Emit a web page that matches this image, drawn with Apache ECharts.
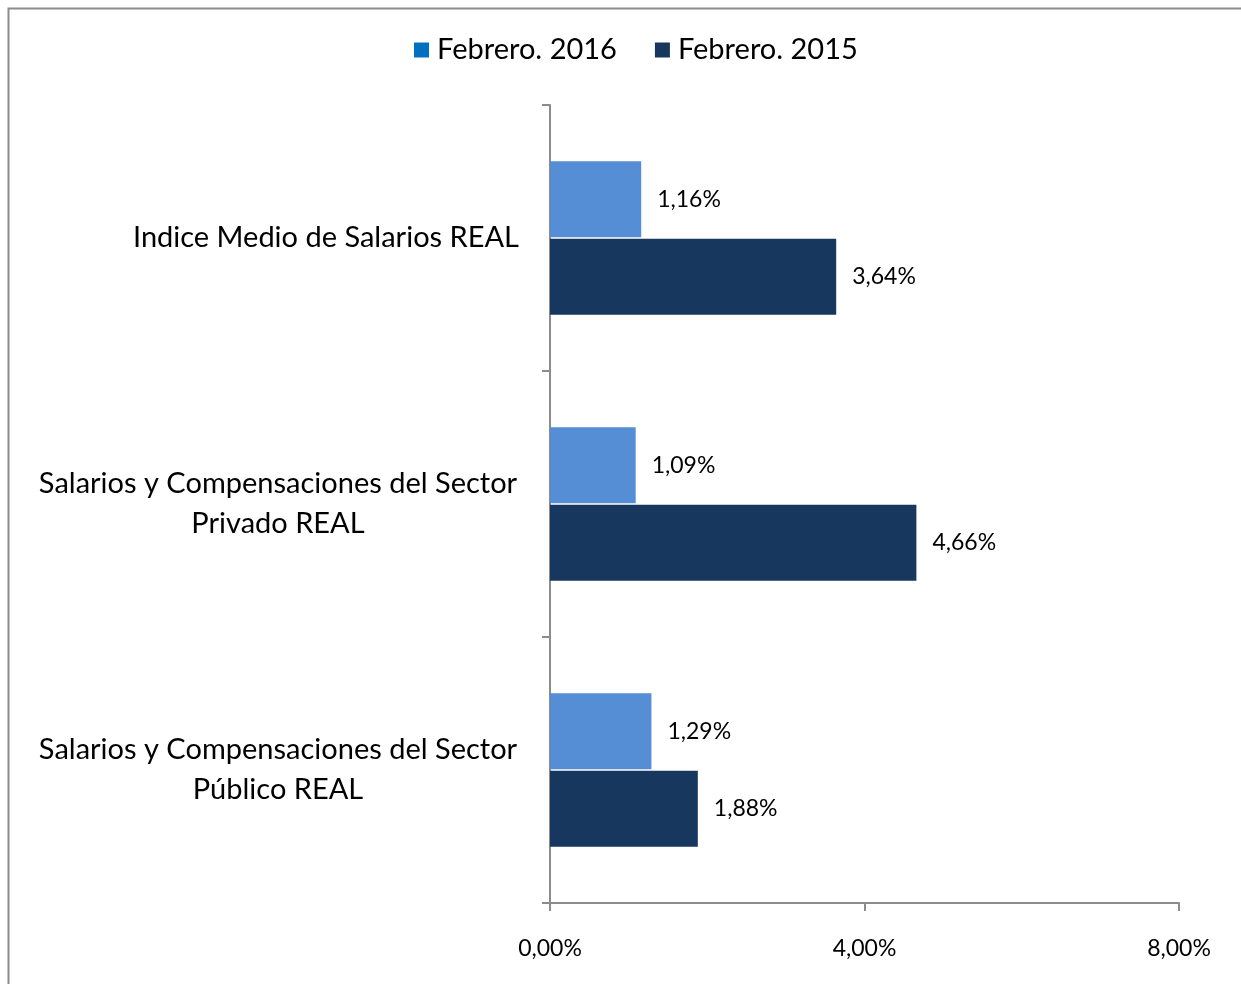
<!DOCTYPE html>
<html>
<head>
<meta charset="utf-8">
<script src="https://cdn.jsdelivr.net/npm/echarts@6/dist/echarts.min.js"></script>
<style>
html,body{margin:0;padding:0;background:#fff;}
#chart{width:1241px;height:984px;}
</style>
</head>
<body>
<div id="chart"></div>
<script>
var categories = [
  'Indice Medio de Salarios REAL',
  'Salarios y Compensaciones del Sector\nPrivado REAL',
  'Salarios y Compensaciones del Sector\nPúblico REAL'
];
var seriesNames = ['Febrero. 2016', 'Febrero. 2015'];
var feb2016 = [1.16, 1.09, 1.29];
var feb2015 = [3.64, 4.66, 1.88];

function pct(v) { return v.toFixed(2).replace('.', ',') + '%'; }

var FONT = 'Lato';
var chart = echarts.init(document.getElementById('chart'));
chart.setOption({
  animation: false,
  textStyle: { fontFamily: FONT, color: '#000' },
  graphic: [{
    type: 'rect', left: 6, top: 6,
    shape: { width: 1260, height: 1000 },
    style: { fill: 'none', stroke: '#8c8c8c', lineWidth: 2 },
    silent: true
  }],
  legend: {
    top: 30, left: 409,
    icon: 'rect',
    itemWidth: 15, itemHeight: 15, itemGap: 38,
    textStyle: { fontFamily: FONT, fontSize: 29, lineHeight: 30, color: '#000', padding: [0, 0, 0, 3] },
    data: [
      { name: seriesNames[0], itemStyle: { color: '#0070C0' } },
      { name: seriesNames[1], itemStyle: { color: '#17375E' } }
    ]
  },
  grid: { left: 550, right: 62, top: 105, bottom: 81, containLabel: false },
  xAxis: {
    type: 'value', min: 0, max: 8, interval: 4,
    axisLine: { show: true, lineStyle: { color: '#8c8c8c', width: 2 } },
    axisTick: { show: true, inside: false, length: 8, lineStyle: { color: '#8c8c8c', width: 2 } },
    splitLine: { show: false },
    axisLabel: {
      margin: 34, fontFamily: FONT, fontSize: 23, color: '#000',
      formatter: function (v) { return pct(v); }
    }
  },
  yAxis: {
    type: 'category', inverse: true, data: categories,
    axisLine: { show: true, lineStyle: { color: '#8c8c8c', width: 2 } },
    axisTick: { show: true, length: 8, lineStyle: { color: '#8c8c8c', width: 2 } },
    axisLabel: {
      margin: 31, fontFamily: FONT, fontSize: 29, color: '#000', lineHeight: 40,
      formatter: function (v) {
        var parts = v.split('\n');
        if (parts.length === 1) return v;
        return parts.map(function (p) { return '{c|' + p + '}'; }).join('\n');
      },
      rich: {
        c: { width: 482, align: 'center', fontFamily: FONT, fontSize: 29, lineHeight: 40, color: '#000' }
      }
    }
  },
  series: [
    {
      name: seriesNames[0], type: 'bar', data: feb2016,
      barWidth: 76, barGap: '2%',
      itemStyle: { color: '#558ED5' },
      label: { show: true, position: 'right', distance: 16, fontFamily: FONT, fontSize: 23, color: '#000',
        formatter: function (p) { return pct(p.value); } }
    },
    {
      name: seriesNames[1], type: 'bar', data: feb2015,
      barWidth: 76, barGap: '2%',
      itemStyle: { color: '#17375E' },
      label: { show: true, position: 'right', distance: 16, fontFamily: FONT, fontSize: 23, color: '#000',
        formatter: function (p) { return pct(p.value); } }
    }
  ]
});
</script>
</body>
</html>
